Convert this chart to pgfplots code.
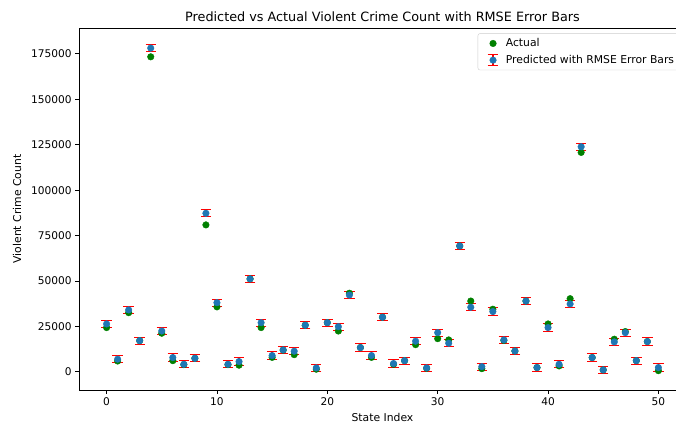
\documentclass[border=0pt]{standalone}
\usepackage{fontspec}
\setmainfont{DejaVu Sans}
\usepackage{pgfplots}
\usepackage{pgfplotstable}
\pgfplotsset{compat=1.18}
\definecolor{mplblue}{HTML}{1F77B4}
\definecolor{mplgreen}{HTML}{008000}
\pgfplotstableread{
x actual predicted
0 24400 26400
1 6000 7000
2 32600 34100
3 17200 17200
4 173400 178200
5 21300 22500
6 6200 7900
7 4000 4200
8 7500 7500
9 80900 87300
10 35800 38100
11 4000 4200
12 3700 5700
13 51200 51200
14 24400 27100
15 8000 9000
16 12000 12100
17 9500 11400
18 25700 25700
19 1500 2200
20 27100 27100
21 22500 24900
22 43300 42300
23 13400 13400
24 8000 9000
25 30100 30100
26 4200 4600
27 6200 6200
28 15000 16900
29 2000 2200
30 18300 21600
31 17600 15800
32 69300 69300
33 39000 35600
34 1800 2900
35 34500 33200
36 17300 17600
37 11500 11500
38 39000 39000
39 2400 2400
40 26400 24400
41 3300 4200
42 40300 37400
43 120800 123900
44 7900 7900
45 1100 1100
46 18000 16500
47 22200 21600
48 6200 6200
49 16700 16700
50 700 2400
}\datatable
\begin{document}
\begin{tikzpicture}
\useasboundingbox (-79pt,-33pt) rectangle (597pt,390pt);
\clip (-79pt,-33pt) rectangle (597pt,390pt);
\begin{axis}[
  at={(0,0)}, anchor=south west,
  scale only axis, width=607pt, height=362pt,
  xmin=-2.5, xmax=52.5, ymin=-9955, ymax=189255,
  xtick={0,10,20,30,40,50},
  ytick={0,25000,50000,75000,100000,125000,150000,175000},
  scaled y ticks=false,
  yticklabel style={/pgf/number format/fixed, /pgf/number format/1000 sep={}},
  /pgf/number format/assume math mode=true,
  tick label style={font=\fontsize{10.6}{12.7}\selectfont},
  label style={font=\fontsize{10.8}{13}\selectfont},
  tick align=outside, major tick length=3.8pt,
  xtick pos=bottom, ytick pos=left,
  axis line style={line width=0.86pt},
  every tick/.style={black, line width=0.86pt},
  title={Predicted vs Actual Violent Crime Count with RMSE Error Bars},
  title style={font=\fontsize{12.8}{15}\selectfont, anchor=base, at={(0.5,1)}, yshift=0pt},
  xlabel={State Index}, ylabel={Violent Crime Count},
  xlabel style={yshift=-1pt},
  ylabel style={yshift=3pt},
  legend style={at={(1,1)}, anchor=north east, xshift=-5.4pt, yshift=-5.4pt,
    draw=black!20, rounded corners=2pt, fill=white,
    font=\fontsize{10.8}{13}\selectfont, row sep=3pt, inner xsep=4.3pt, inner ysep=3pt},
  legend cell align=left,
]
\addplot[only marks, color=mplgreen, mark=*, mark size=3.3pt,
  legend image code/.code={
    \path[draw=none, fill=none] (0pt,-0.1pt) rectangle (21.6pt,0.1pt);
    \fill[mplgreen] (10.8pt,0pt) circle (3.3pt);}]
  table[x=x, y=actual] {\datatable};
\addlegendentry{Actual}
\addplot[only marks, color=mplblue, mark=*, mark size=3.3pt,
  legend image code/.code={
    \path[draw=none, fill=none] (0pt,-0.1pt) rectangle (21.6pt,0.1pt);
    \draw[red, line width=1.5pt] (10.8pt,-5.4pt) -- (10.8pt,5.4pt);
    \draw[red, line width=1pt] (5.4pt,-5.4pt) -- (16.2pt,-5.4pt);
    \draw[red, line width=1pt] (5.4pt,5.4pt) -- (16.2pt,5.4pt);
    \fill[mplblue] (10.8pt,0pt) circle (3.3pt);},
  error bars/.cd, y dir=both, y fixed=2000,
  error bar style={draw=red, line width=1.5pt},
  error mark options={rotate=90, draw=red, fill=red, mark size=5.2pt, line width=1pt}]
  table[x=x, y=predicted] {\datatable};
\addlegendentry{Predicted with RMSE Error Bars}
\end{axis}
\end{tikzpicture}
\end{document}
